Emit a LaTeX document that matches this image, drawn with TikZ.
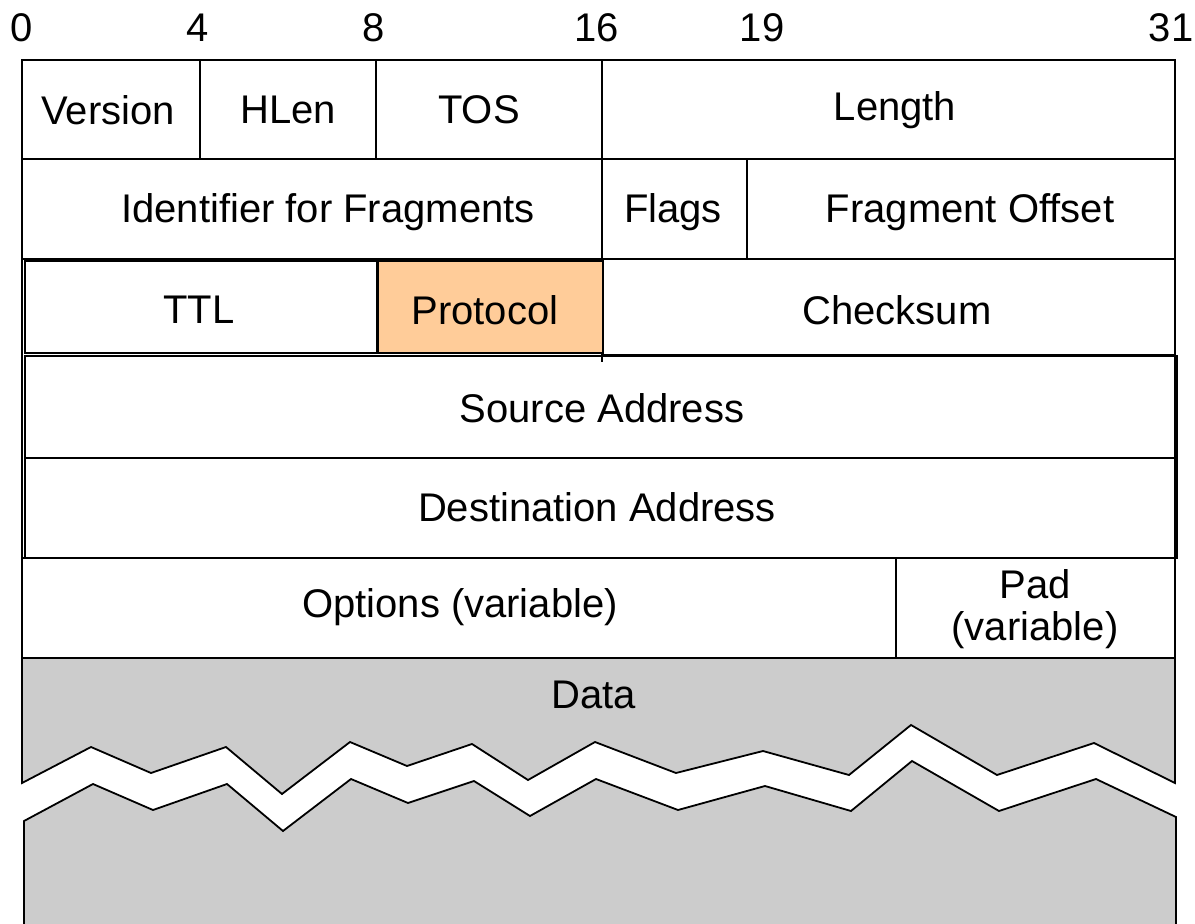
\documentclass[tikz,border=0pt]{standalone}
\usepackage{fontspec}
\setmainfont{Liberation Sans}
\definecolor{datagray}{HTML}{CCCCCC}
\definecolor{protoorange}{HTML}{FFCC99}
\begin{document}
\begin{tikzpicture}[x=1pt,y=-1pt,
  frame/.style={line width=1.8pt,line join=miter},
  field/.style={font=\fontsize{40}{46}\selectfont,inner sep=0pt,anchor=center},
  bitnum/.style={font=\fontsize{40}{46}\selectfont,inner sep=0pt,anchor=center}]
\useasboundingbox (0,0) rectangle (1195,924);

% bit positions
\node[bitnum] (b0)  at (22,28)   {0};
\node[bitnum] (b4)  at (198,28)  {4};
\node[bitnum] (b8)  at (374,28)  {8};
\node[bitnum] (b16) at (597,28)  {16};
\node[bitnum] (b19) at (762,28)  {19};
\node[bitnum] (b31) at (1171,28) {31};

% data area: upper part down to the torn edge
\fill[datagray] (22,658) -- (1175,658) -- (1175,783)
  -- (1094,743) -- (997,775) -- (911,725) -- (849,775) -- (763,751) -- (676,773)
  -- (595,742) -- (528,780) -- (472,744) -- (407,766) -- (350,742) -- (282,794)
  -- (226,747) -- (151,773) -- (91,747) -- (22,783) -- cycle;
\draw[frame] (22,658) -- (22,783)
  -- (91,747) -- (151,773) -- (226,747) -- (282,794) -- (350,742) -- (407,766)
  -- (472,744) -- (528,780) -- (595,742) -- (676,773) -- (763,751) -- (849,775)
  -- (911,725) -- (997,775) -- (1094,743) -- (1175,783) -- (1175,658);

% data area: lower part below the torn edge
\fill[datagray] (24,930) -- (24,821)
  -- (93,784) -- (153,810) -- (227,784) -- (283,831) -- (351,779) -- (408,803)
  -- (474,781) -- (530,816) -- (596,779) -- (678,810) -- (765,786) -- (851,811)
  -- (912,761) -- (999,811) -- (1096,779) -- (1176,817) -- (1176,930) -- cycle;
\draw[frame] (24,930) -- (24,821)
  -- (93,784) -- (153,810) -- (227,784) -- (283,831) -- (351,779) -- (408,803)
  -- (474,781) -- (530,816) -- (596,779) -- (678,810) -- (765,786) -- (851,811)
  -- (912,761) -- (999,811) -- (1096,779) -- (1176,817) -- (1176,930);

% outer frame of the header
\draw[frame] (22,658) -- (22,60) -- (1175,60) -- (1175,658);
\draw[frame] (22,159) -- (1175,159);
\draw[frame] (22,259) -- (1175,259);
\draw[frame] (22,558) -- (1175,558);
\draw[frame] (22,658) -- (1175,658);

% row 1 separators
\draw[frame] (200,60) -- (200,159);
\draw[frame] (376,60) -- (376,159);
\draw[frame] (602,60) -- (602,159);

% row 2 separators
\draw[frame] (602,159) -- (602,362);
\draw[frame] (747,159) -- (747,259);

% row 3 boxes
\draw[frame] (25,261) rectangle (377,353);
\draw[frame] (603,355) -- (1175,355);
\draw[line width=2.6pt,fill=protoorange] (378,261) rectangle (603,353);

% address boxes
\draw[frame] (25,356) rectangle (1177,558);
\draw[frame] (25,458) -- (1177,458);

% row 6 separator
\draw[frame] (896,558) -- (896,658);

% field labels
\node[field] (version)  at (108,110) {Version};
\node[field] (hlen)     at (288,110) {HLen};
\node[field] (tos)      at (479,110) {TOS};
\node[field] (length)   at (895,110) {Length};
\node[field] (ident)    at (328,212) {Identifier for Fragments};
\node[field] (flags)    at (673,212) {Flags};
\node[field] (fragoff)  at (970,212) {Fragment Offset};
\node[field] (ttl)      at (199,310) {TTL};
\node[field] (protocol) at (485,310) {Protocol};
\node[field] (checksum) at (897,310) {Checksum};
\node[field] (src)      at (602,408) {Source Address};
\node[field] (dst)      at (597,507) {Destination Address};
\node[field] (options)  at (460,607) {Options (variable)};
\node[field,align=center,font=\fontsize{40}{42}\selectfont] (pad) at (1035,609) {Pad\\(variable)};
\node[field] (data)     at (594,695) {Data};
\end{tikzpicture}
\end{document}
